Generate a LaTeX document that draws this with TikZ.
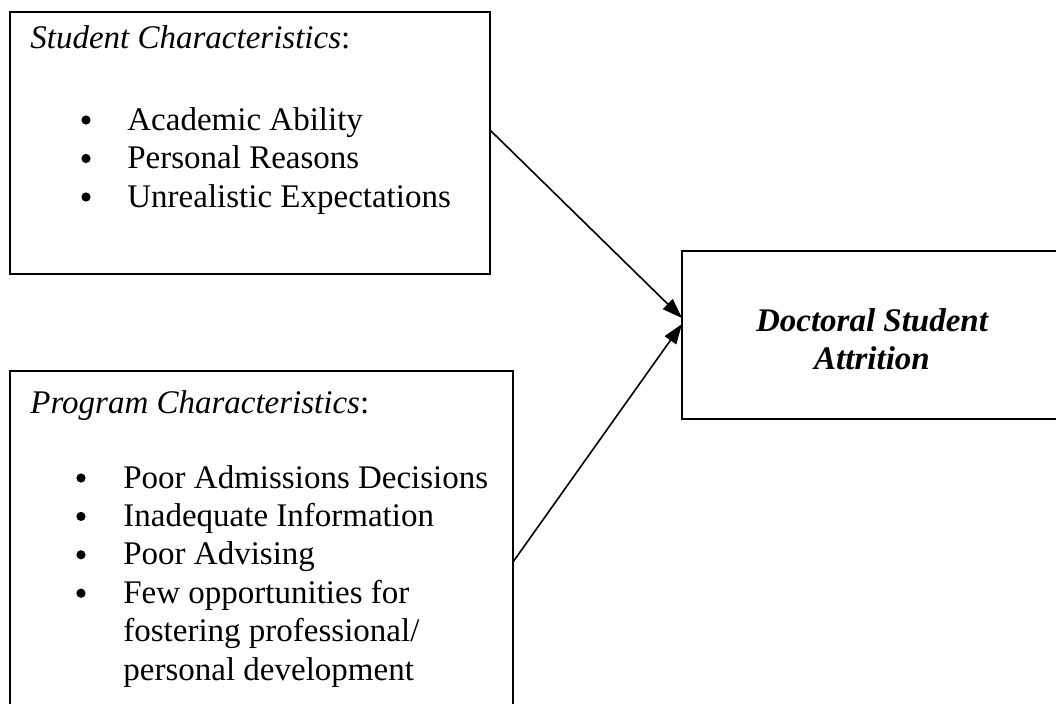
\documentclass[tikz,border=0pt]{standalone}
\usepackage{fontspec}
\setmainfont{Liberation Serif}
\usetikzlibrary{arrows.meta,fit}
\begin{document}
\begin{tikzpicture}[x=0.5pt,y=-0.5pt,
  frame/.style={draw=black,line width=1.1pt,inner sep=0pt},
  txt/.style={anchor=base west,inner sep=0pt,font=\fontsize{16.5}{19}\selectfont},
  dot/.style={circle,fill=black,inner sep=0pt,minimum size=4.6pt},
  link/.style={draw=black,line width=0.8pt,-{Triangle[length=10pt,width=7pt]}}]
\useasboundingbox (0,0) rectangle (1056,703);
\clip (0,0) rectangle (1056,703);

% Student characteristics box
\node[frame,fit={(10,12) (490,274)}] (student) {};
\node[txt] (stitle) at (30,48) {\textit{Student Characteristics}:};
\foreach \y/\t/\n in {130/Academic Ability/s1,168.5/Personal Reasons/s2,207/Unrealistic Expectations/s3}{
  \node[dot] (\n b) at (86,\y-10) {};
  \node[txt] (\n) at (127,\y) {\t};
}

% Program characteristics box (runs past the lower edge)
\node[frame,fit={(10,371) (513,740)}] (program) {};
\node[txt] (ptitle) at (30,413) {\textit{Program Characteristics}:};
\foreach \y/\t/\n in {488/Poor Admissions Decisions/p1,526.4/Inadequate Information/p2,564.8/Poor Advising/p3,603.2/Few opportunities for/p4}{
  \node[dot] (\n b) at (81,\y-10) {};
  \node[txt] (\n) at (123,\y) {\t};
}
\node[txt] (p5) at (123,641.6) {fostering professional/};
\node[txt] (p6) at (123,680) {personal development};

% Outcome box (runs past the right edge)
\node[frame,fit={(682,251) (1062,419)}] (outcome) {};
\node[align=center,inner sep=0pt,font=\fontsize{16.5}{19}\selectfont\bfseries\itshape] (otext) at (872,339) {Doctoral Student\\Attrition};

% Connectors
\coordinate (a1) at (490,130);
\coordinate (a2) at (513,562);
\coordinate (t1) at (682,318);
\coordinate (t2) at (682,324);
\draw[link] (a1) -- (t1);
\draw[link] (a2) -- (t2);
\end{tikzpicture}
\end{document}
